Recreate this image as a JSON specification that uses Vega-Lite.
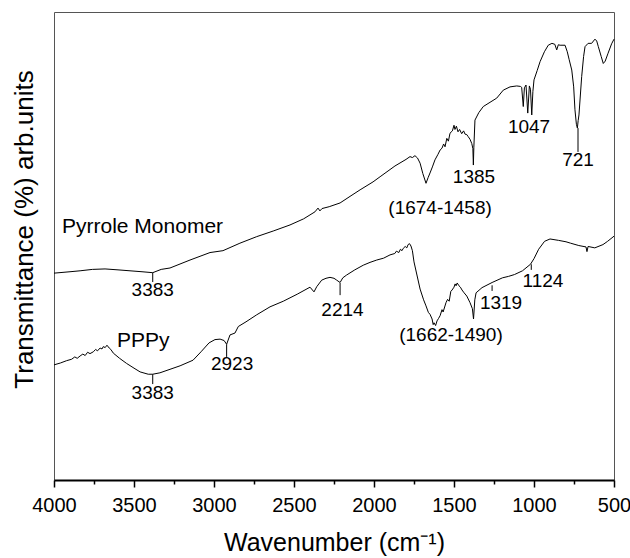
{
  "$schema": "https://vega.github.io/schema/vega-lite/v6.json",
  "width": 560,
  "height": 468,
  "autosize": {"type": "none"},
  "padding": {"left": 54, "top": 12, "right": 16, "bottom": 78},
  "background": "white",
  "config": {"font": "Liberation Sans", "view": {"stroke": "#555", "strokeWidth": 1}},
  "datasets": {
    "spectra": [
      {"series":"Pyrrole Monomer","wavenumber":4000,"transmittance":44.2},
      {"series":"Pyrrole Monomer","wavenumber":3900,"transmittance":44.5},
      {"series":"Pyrrole Monomer","wavenumber":3837,"transmittance":44.7},
      {"series":"Pyrrole Monomer","wavenumber":3760,"transmittance":45.0},
      {"series":"Pyrrole Monomer","wavenumber":3681,"transmittance":45.1},
      {"series":"Pyrrole Monomer","wavenumber":3600,"transmittance":44.9},
      {"series":"Pyrrole Monomer","wavenumber":3525,"transmittance":44.7},
      {"series":"Pyrrole Monomer","wavenumber":3450,"transmittance":44.5},
      {"series":"Pyrrole Monomer","wavenumber":3383,"transmittance":44.3},
      {"series":"Pyrrole Monomer","wavenumber":3330,"transmittance":45.0},
      {"series":"Pyrrole Monomer","wavenumber":3275,"transmittance":45.3},
      {"series":"Pyrrole Monomer","wavenumber":3150,"transmittance":47.0},
      {"series":"Pyrrole Monomer","wavenumber":3025,"transmittance":48.6},
      {"series":"Pyrrole Monomer","wavenumber":2944,"transmittance":49.0},
      {"series":"Pyrrole Monomer","wavenumber":2838,"transmittance":50.6},
      {"series":"Pyrrole Monomer","wavenumber":2733,"transmittance":52.0},
      {"series":"Pyrrole Monomer","wavenumber":2630,"transmittance":53.2},
      {"series":"Pyrrole Monomer","wavenumber":2525,"transmittance":54.5},
      {"series":"Pyrrole Monomer","wavenumber":2440,"transmittance":55.8},
      {"series":"Pyrrole Monomer","wavenumber":2369,"transmittance":57.3},
      {"series":"Pyrrole Monomer","wavenumber":2350,"transmittance":58.1},
      {"series":"Pyrrole Monomer","wavenumber":2338,"transmittance":57.5},
      {"series":"Pyrrole Monomer","wavenumber":2325,"transmittance":58.0},
      {"series":"Pyrrole Monomer","wavenumber":2280,"transmittance":58.4},
      {"series":"Pyrrole Monomer","wavenumber":2212,"transmittance":59.2},
      {"series":"Pyrrole Monomer","wavenumber":2150,"transmittance":60.6},
      {"series":"Pyrrole Monomer","wavenumber":2087,"transmittance":62.0},
      {"series":"Pyrrole Monomer","wavenumber":2006,"transmittance":63.7},
      {"series":"Pyrrole Monomer","wavenumber":1962,"transmittance":64.8},
      {"series":"Pyrrole Monomer","wavenumber":1869,"transmittance":67.1},
      {"series":"Pyrrole Monomer","wavenumber":1800,"transmittance":68.5},
      {"series":"Pyrrole Monomer","wavenumber":1775,"transmittance":69.1},
      {"series":"Pyrrole Monomer","wavenumber":1760,"transmittance":68.9},
      {"series":"Pyrrole Monomer","wavenumber":1744,"transmittance":69.3},
      {"series":"Pyrrole Monomer","wavenumber":1728,"transmittance":68.8},
      {"series":"Pyrrole Monomer","wavenumber":1712,"transmittance":67.7},
      {"series":"Pyrrole Monomer","wavenumber":1695,"transmittance":65.5},
      {"series":"Pyrrole Monomer","wavenumber":1675,"transmittance":63.4},
      {"series":"Pyrrole Monomer","wavenumber":1662,"transmittance":64.6},
      {"series":"Pyrrole Monomer","wavenumber":1650,"transmittance":65.6},
      {"series":"Pyrrole Monomer","wavenumber":1635,"transmittance":66.9},
      {"series":"Pyrrole Monomer","wavenumber":1619,"transmittance":68.4},
      {"series":"Pyrrole Monomer","wavenumber":1600,"transmittance":69.6},
      {"series":"Pyrrole Monomer","wavenumber":1587,"transmittance":70.5},
      {"series":"Pyrrole Monomer","wavenumber":1575,"transmittance":70.9},
      {"series":"Pyrrole Monomer","wavenumber":1565,"transmittance":71.8},
      {"series":"Pyrrole Monomer","wavenumber":1556,"transmittance":71.2},
      {"series":"Pyrrole Monomer","wavenumber":1545,"transmittance":73.0},
      {"series":"Pyrrole Monomer","wavenumber":1535,"transmittance":72.4},
      {"series":"Pyrrole Monomer","wavenumber":1525,"transmittance":74.1},
      {"series":"Pyrrole Monomer","wavenumber":1510,"transmittance":74.6},
      {"series":"Pyrrole Monomer","wavenumber":1500,"transmittance":75.8},
      {"series":"Pyrrole Monomer","wavenumber":1494,"transmittance":74.9},
      {"series":"Pyrrole Monomer","wavenumber":1485,"transmittance":75.6},
      {"series":"Pyrrole Monomer","wavenumber":1475,"transmittance":74.4},
      {"series":"Pyrrole Monomer","wavenumber":1465,"transmittance":74.9},
      {"series":"Pyrrole Monomer","wavenumber":1452,"transmittance":74.0},
      {"series":"Pyrrole Monomer","wavenumber":1440,"transmittance":74.6},
      {"series":"Pyrrole Monomer","wavenumber":1431,"transmittance":73.9},
      {"series":"Pyrrole Monomer","wavenumber":1420,"transmittance":73.8},
      {"series":"Pyrrole Monomer","wavenumber":1412,"transmittance":73.4},
      {"series":"Pyrrole Monomer","wavenumber":1400,"transmittance":72.8},
      {"series":"Pyrrole Monomer","wavenumber":1389,"transmittance":71.9},
      {"series":"Pyrrole Monomer","wavenumber":1382,"transmittance":70.8},
      {"series":"Pyrrole Monomer","wavenumber":1379,"transmittance":67.3},
      {"series":"Pyrrole Monomer","wavenumber":1376,"transmittance":71.0},
      {"series":"Pyrrole Monomer","wavenumber":1369,"transmittance":76.9},
      {"series":"Pyrrole Monomer","wavenumber":1345,"transmittance":78.5},
      {"series":"Pyrrole Monomer","wavenumber":1317,"transmittance":79.8},
      {"series":"Pyrrole Monomer","wavenumber":1275,"transmittance":80.7},
      {"series":"Pyrrole Monomer","wavenumber":1233,"transmittance":81.6},
      {"series":"Pyrrole Monomer","wavenumber":1192,"transmittance":83.3},
      {"series":"Pyrrole Monomer","wavenumber":1150,"transmittance":84.0},
      {"series":"Pyrrole Monomer","wavenumber":1108,"transmittance":84.2},
      {"series":"Pyrrole Monomer","wavenumber":1085,"transmittance":84.1},
      {"series":"Pyrrole Monomer","wavenumber":1077,"transmittance":83.9},
      {"series":"Pyrrole Monomer","wavenumber":1067,"transmittance":79.8},
      {"series":"Pyrrole Monomer","wavenumber":1060,"transmittance":83.8},
      {"series":"Pyrrole Monomer","wavenumber":1050,"transmittance":84.4},
      {"series":"Pyrrole Monomer","wavenumber":1039,"transmittance":78.4},
      {"series":"Pyrrole Monomer","wavenumber":1029,"transmittance":84.2},
      {"series":"Pyrrole Monomer","wavenumber":1022,"transmittance":83.5},
      {"series":"Pyrrole Monomer","wavenumber":1014,"transmittance":78.0},
      {"series":"Pyrrole Monomer","wavenumber":1007,"transmittance":83.0},
      {"series":"Pyrrole Monomer","wavenumber":1000,"transmittance":85.5},
      {"series":"Pyrrole Monomer","wavenumber":980,"transmittance":87.5},
      {"series":"Pyrrole Monomer","wavenumber":962,"transmittance":89.4},
      {"series":"Pyrrole Monomer","wavenumber":935,"transmittance":91.5},
      {"series":"Pyrrole Monomer","wavenumber":911,"transmittance":92.9},
      {"series":"Pyrrole Monomer","wavenumber":888,"transmittance":93.3},
      {"series":"Pyrrole Monomer","wavenumber":870,"transmittance":93.1},
      {"series":"Pyrrole Monomer","wavenumber":858,"transmittance":91.9},
      {"series":"Pyrrole Monomer","wavenumber":848,"transmittance":93.0},
      {"series":"Pyrrole Monomer","wavenumber":837,"transmittance":92.9},
      {"series":"Pyrrole Monomer","wavenumber":806,"transmittance":92.9},
      {"series":"Pyrrole Monomer","wavenumber":792,"transmittance":91.5},
      {"series":"Pyrrole Monomer","wavenumber":780,"transmittance":89.8},
      {"series":"Pyrrole Monomer","wavenumber":764,"transmittance":87.6},
      {"series":"Pyrrole Monomer","wavenumber":752,"transmittance":84.0},
      {"series":"Pyrrole Monomer","wavenumber":744,"transmittance":79.1},
      {"series":"Pyrrole Monomer","wavenumber":735,"transmittance":76.0},
      {"series":"Pyrrole Monomer","wavenumber":729,"transmittance":75.2},
      {"series":"Pyrrole Monomer","wavenumber":724,"transmittance":76.8},
      {"series":"Pyrrole Monomer","wavenumber":719,"transmittance":78.0},
      {"series":"Pyrrole Monomer","wavenumber":702,"transmittance":86.2},
      {"series":"Pyrrole Monomer","wavenumber":690,"transmittance":90.5},
      {"series":"Pyrrole Monomer","wavenumber":681,"transmittance":92.6},
      {"series":"Pyrrole Monomer","wavenumber":662,"transmittance":93.3},
      {"series":"Pyrrole Monomer","wavenumber":640,"transmittance":93.3},
      {"series":"Pyrrole Monomer","wavenumber":619,"transmittance":94.2},
      {"series":"Pyrrole Monomer","wavenumber":608,"transmittance":93.8},
      {"series":"Pyrrole Monomer","wavenumber":598,"transmittance":92.6},
      {"series":"Pyrrole Monomer","wavenumber":580,"transmittance":90.5},
      {"series":"Pyrrole Monomer","wavenumber":567,"transmittance":89.0},
      {"series":"Pyrrole Monomer","wavenumber":555,"transmittance":89.5},
      {"series":"Pyrrole Monomer","wavenumber":537,"transmittance":91.2},
      {"series":"Pyrrole Monomer","wavenumber":515,"transmittance":93.2},
      {"series":"Pyrrole Monomer","wavenumber":500,"transmittance":94.2},
      {"series":"PPPy","wavenumber":4000,"transmittance":24.6},
      {"series":"PPPy","wavenumber":3960,"transmittance":25.0},
      {"series":"PPPy","wavenumber":3921,"transmittance":25.5},
      {"series":"PPPy","wavenumber":3890,"transmittance":25.8},
      {"series":"PPPy","wavenumber":3870,"transmittance":26.3},
      {"series":"PPPy","wavenumber":3855,"transmittance":26.0},
      {"series":"PPPy","wavenumber":3837,"transmittance":26.5},
      {"series":"PPPy","wavenumber":3820,"transmittance":26.9},
      {"series":"PPPy","wavenumber":3805,"transmittance":26.6},
      {"series":"PPPy","wavenumber":3790,"transmittance":27.3},
      {"series":"PPPy","wavenumber":3775,"transmittance":27.0},
      {"series":"PPPy","wavenumber":3754,"transmittance":27.4},
      {"series":"PPPy","wavenumber":3740,"transmittance":27.9},
      {"series":"PPPy","wavenumber":3728,"transmittance":27.6},
      {"series":"PPPy","wavenumber":3712,"transmittance":28.2},
      {"series":"PPPy","wavenumber":3700,"transmittance":28.0},
      {"series":"PPPy","wavenumber":3692,"transmittance":28.5},
      {"series":"PPPy","wavenumber":3680,"transmittance":28.3},
      {"series":"PPPy","wavenumber":3669,"transmittance":28.8},
      {"series":"PPPy","wavenumber":3655,"transmittance":28.2},
      {"series":"PPPy","wavenumber":3645,"transmittance":27.9},
      {"series":"PPPy","wavenumber":3629,"transmittance":27.1},
      {"series":"PPPy","wavenumber":3590,"transmittance":26.0},
      {"series":"PPPy","wavenumber":3546,"transmittance":24.9},
      {"series":"PPPy","wavenumber":3500,"transmittance":23.9},
      {"series":"PPPy","wavenumber":3462,"transmittance":23.1},
      {"series":"PPPy","wavenumber":3411,"transmittance":22.6},
      {"series":"PPPy","wavenumber":3383,"transmittance":22.6},
      {"series":"PPPy","wavenumber":3338,"transmittance":22.9},
      {"series":"PPPy","wavenumber":3212,"transmittance":24.4},
      {"series":"PPPy","wavenumber":3131,"transmittance":25.6},
      {"series":"PPPy","wavenumber":3081,"transmittance":27.4},
      {"series":"PPPy","wavenumber":3031,"transmittance":29.3},
      {"series":"PPPy","wavenumber":2994,"transmittance":30.0},
      {"series":"PPPy","wavenumber":2962,"transmittance":30.1},
      {"series":"PPPy","wavenumber":2937,"transmittance":29.8},
      {"series":"PPPy","wavenumber":2921,"transmittance":29.0},
      {"series":"PPPy","wavenumber":2900,"transmittance":31.0},
      {"series":"PPPy","wavenumber":2869,"transmittance":31.4},
      {"series":"PPPy","wavenumber":2848,"transmittance":32.8},
      {"series":"PPPy","wavenumber":2800,"transmittance":33.8},
      {"series":"PPPy","wavenumber":2733,"transmittance":35.3},
      {"series":"PPPy","wavenumber":2650,"transmittance":37.0},
      {"series":"PPPy","wavenumber":2567,"transmittance":38.2},
      {"series":"PPPy","wavenumber":2480,"transmittance":39.7},
      {"series":"PPPy","wavenumber":2400,"transmittance":41.2},
      {"series":"PPPy","wavenumber":2375,"transmittance":40.2},
      {"series":"PPPy","wavenumber":2358,"transmittance":41.3},
      {"series":"PPPy","wavenumber":2327,"transmittance":42.7},
      {"series":"PPPy","wavenumber":2300,"transmittance":43.1},
      {"series":"PPPy","wavenumber":2275,"transmittance":43.3},
      {"series":"PPPy","wavenumber":2250,"transmittance":43.1},
      {"series":"PPPy","wavenumber":2233,"transmittance":42.7},
      {"series":"PPPy","wavenumber":2212,"transmittance":42.2},
      {"series":"PPPy","wavenumber":2195,"transmittance":43.2},
      {"series":"PPPy","wavenumber":2171,"transmittance":43.8},
      {"series":"PPPy","wavenumber":2120,"transmittance":44.9},
      {"series":"PPPy","wavenumber":2067,"transmittance":45.9},
      {"series":"PPPy","wavenumber":2025,"transmittance":46.5},
      {"series":"PPPy","wavenumber":1983,"transmittance":47.0},
      {"series":"PPPy","wavenumber":1940,"transmittance":47.4},
      {"series":"PPPy","wavenumber":1900,"transmittance":48.1},
      {"series":"PPPy","wavenumber":1870,"transmittance":48.4},
      {"series":"PPPy","wavenumber":1860,"transmittance":48.9},
      {"series":"PPPy","wavenumber":1845,"transmittance":48.6},
      {"series":"PPPy","wavenumber":1835,"transmittance":49.3},
      {"series":"PPPy","wavenumber":1825,"transmittance":49.0},
      {"series":"PPPy","wavenumber":1817,"transmittance":49.5},
      {"series":"PPPy","wavenumber":1805,"transmittance":49.9},
      {"series":"PPPy","wavenumber":1795,"transmittance":49.6},
      {"series":"PPPy","wavenumber":1787,"transmittance":50.3},
      {"series":"PPPy","wavenumber":1778,"transmittance":50.5},
      {"series":"PPPy","wavenumber":1769,"transmittance":50.0},
      {"series":"PPPy","wavenumber":1760,"transmittance":49.0},
      {"series":"PPPy","wavenumber":1750,"transmittance":46.6},
      {"series":"PPPy","wavenumber":1712,"transmittance":40.8},
      {"series":"PPPy","wavenumber":1690,"transmittance":38.5},
      {"series":"PPPy","wavenumber":1675,"transmittance":37.2},
      {"series":"PPPy","wavenumber":1660,"transmittance":35.8},
      {"series":"PPPy","wavenumber":1650,"transmittance":35.4},
      {"series":"PPPy","wavenumber":1637,"transmittance":34.4},
      {"series":"PPPy","wavenumber":1630,"transmittance":33.2},
      {"series":"PPPy","wavenumber":1625,"transmittance":33.6},
      {"series":"PPPy","wavenumber":1615,"transmittance":33.0},
      {"series":"PPPy","wavenumber":1606,"transmittance":34.0},
      {"series":"PPPy","wavenumber":1597,"transmittance":34.5},
      {"series":"PPPy","wavenumber":1587,"transmittance":35.1},
      {"series":"PPPy","wavenumber":1575,"transmittance":36.4},
      {"series":"PPPy","wavenumber":1568,"transmittance":35.9},
      {"series":"PPPy","wavenumber":1550,"transmittance":37.9},
      {"series":"PPPy","wavenumber":1540,"transmittance":38.6},
      {"series":"PPPy","wavenumber":1530,"transmittance":38.2},
      {"series":"PPPy","wavenumber":1520,"transmittance":40.3},
      {"series":"PPPy","wavenumber":1512,"transmittance":40.6},
      {"series":"PPPy","wavenumber":1500,"transmittance":41.2},
      {"series":"PPPy","wavenumber":1493,"transmittance":41.9},
      {"series":"PPPy","wavenumber":1487,"transmittance":41.5},
      {"series":"PPPy","wavenumber":1480,"transmittance":42.1},
      {"series":"PPPy","wavenumber":1469,"transmittance":41.5},
      {"series":"PPPy","wavenumber":1460,"transmittance":41.2},
      {"series":"PPPy","wavenumber":1450,"transmittance":40.6},
      {"series":"PPPy","wavenumber":1437,"transmittance":40.0},
      {"series":"PPPy","wavenumber":1420,"transmittance":39.3},
      {"series":"PPPy","wavenumber":1400,"transmittance":37.9},
      {"series":"PPPy","wavenumber":1385,"transmittance":36.6},
      {"series":"PPPy","wavenumber":1378,"transmittance":34.4},
      {"series":"PPPy","wavenumber":1370,"transmittance":38.5},
      {"series":"PPPy","wavenumber":1362,"transmittance":40.0},
      {"series":"PPPy","wavenumber":1325,"transmittance":41.1},
      {"series":"PPPy","wavenumber":1262,"transmittance":42.2},
      {"series":"PPPy","wavenumber":1197,"transmittance":43.2},
      {"series":"PPPy","wavenumber":1160,"transmittance":43.5},
      {"series":"PPPy","wavenumber":1122,"transmittance":43.9},
      {"series":"PPPy","wavenumber":1072,"transmittance":44.7},
      {"series":"PPPy","wavenumber":1022,"transmittance":46.1},
      {"series":"PPPy","wavenumber":1000,"transmittance":47.3},
      {"series":"PPPy","wavenumber":971,"transmittance":49.3},
      {"series":"PPPy","wavenumber":934,"transmittance":51.0},
      {"series":"PPPy","wavenumber":900,"transmittance":51.5},
      {"series":"PPPy","wavenumber":846,"transmittance":51.2},
      {"series":"PPPy","wavenumber":800,"transmittance":50.9},
      {"series":"PPPy","wavenumber":771,"transmittance":50.6},
      {"series":"PPPy","wavenumber":720,"transmittance":50.1},
      {"series":"PPPy","wavenumber":675,"transmittance":49.8},
      {"series":"PPPy","wavenumber":669,"transmittance":48.8},
      {"series":"PPPy","wavenumber":662,"transmittance":49.9},
      {"series":"PPPy","wavenumber":620,"transmittance":49.6},
      {"series":"PPPy","wavenumber":569,"transmittance":50.3},
      {"series":"PPPy","wavenumber":540,"transmittance":51.0},
      {"series":"PPPy","wavenumber":500,"transmittance":52.1}
    ],
    "ticks": [
      {"wavenumber":3383,"top":44.3,"bottom":42.3},
      {"wavenumber":725,"top":75.2,"bottom":70.1},
      {"wavenumber":3383,"top":22.6,"bottom":20.5},
      {"wavenumber":2921,"top":29.0,"bottom":26.3},
      {"wavenumber":2212,"top":42.1,"bottom":39.5},
      {"wavenumber":1262,"top":41.6,"bottom":40.4},
      {"wavenumber":1017,"top":46.1,"bottom":44.9}
    ],
    "peaks": [
      {"label":"3383","wavenumber":3383,"transmittance":39.3},
      {"label":"(1674-1458)","wavenumber":1587,"transmittance":56.8},
      {"label":"1385","wavenumber":1375,"transmittance":63.4},
      {"label":"1047","wavenumber":1031,"transmittance":74.1},
      {"label":"721","wavenumber":725,"transmittance":67.1},
      {"label":"3383","wavenumber":3383,"transmittance":17.4},
      {"label":"2923","wavenumber":2887,"transmittance":23.4},
      {"label":"2214","wavenumber":2197,"transmittance":35.0},
      {"label":"(1662-1490)","wavenumber":1519,"transmittance":29.7},
      {"label":"1319","wavenumber":1206,"transmittance":36.6},
      {"label":"1124","wavenumber":944,"transmittance":41.3}
    ],
    "names": [
      {"label":"Pyrrole Monomer","wavenumber":3950,"transmittance":52.7},
      {"label":"PPPy","wavenumber":3606,"transmittance":28.5}
    ]
  },
  "resolve": {"axis": {"x": "independent", "y": "independent"}},
  "layer": [
    {
      "data": {"name": "spectra"},
      "mark": {"type": "line", "color": "black", "strokeWidth": 1, "interpolate": "linear"},
      "encoding": {
        "x": {
          "field": "wavenumber", "type": "quantitative",
          "scale": {"domain": [4000, 500], "nice": false, "zero": false},
          "axis": {
            "orient": "bottom",
            "values": [4000, 3500, 3000, 2500, 2000, 1500, 1000, 500],
            "format": "d",
            "grid": false,
            "domainColor": "black", "domainWidth": 2,
            "tickColor": "black", "tickWidth": 1.5, "tickSize": 7,
            "labelFont": "Liberation Sans", "labelFontSize": 20, "labelColor": "black",
            "labelBaseline": "alphabetic", "labelPadding": 24,
            "labelFlush": false, "labelOverlap": false,
            "title": "Wavenumber (cm⁻¹)",
            "titleFont": "Liberation Sans", "titleFontSize": 25, "titleFontWeight": "normal", "titleColor": "black",
            "titleBaseline": "alphabetic", "titleY": 70
          }
        },
        "y": {
          "field": "transmittance", "type": "quantitative",
          "scale": {"domain": [0, 100], "nice": false, "zero": false},
          "axis": {
            "orient": "left",
            "labels": false, "ticks": false, "domain": false, "grid": false,
            "title": "Transmittance (%) arb.units",
            "titleFont": "Liberation Sans", "titleFontSize": 26, "titleFontWeight": "normal", "titleColor": "black",
            "titleAngle": -90, "titleBaseline": "alphabetic", "titleAlign": "center",
            "titleX": -22, "titleY": 217
          }
        },
        "detail": {"field": "series", "type": "nominal"}
      }
    },
    {
      "data": {"name": "ticks"},
      "mark": {"type": "rule", "color": "black", "strokeWidth": 1},
      "encoding": {
        "x": {
          "field": "wavenumber", "type": "quantitative",
          "axis": {
            "orient": "bottom",
            "values": [3750, 3250, 2750, 2250, 1750, 1250, 750],
            "labels": false, "domain": false, "grid": false,
            "tickColor": "black", "tickWidth": 1.5, "tickSize": 4,
            "title": null
          }
        },
        "y": {"field": "top", "type": "quantitative", "axis": null},
        "y2": {"field": "bottom"}
      }
    },
    {
      "data": {"name": "peaks"},
      "mark": {"type": "text", "font": "Liberation Sans", "fontSize": 19, "align": "center", "baseline": "alphabetic", "color": "black"},
      "encoding": {
        "x": {"field": "wavenumber", "type": "quantitative", "axis": null},
        "y": {"field": "transmittance", "type": "quantitative", "axis": null},
        "text": {"field": "label", "type": "nominal"}
      }
    },
    {
      "data": {"name": "names"},
      "mark": {"type": "text", "font": "Liberation Sans", "fontSize": 21, "align": "left", "baseline": "alphabetic", "color": "black"},
      "encoding": {
        "x": {"field": "wavenumber", "type": "quantitative", "axis": null},
        "y": {"field": "transmittance", "type": "quantitative", "axis": null},
        "text": {"field": "label", "type": "nominal"}
      }
    }
  ]
}
